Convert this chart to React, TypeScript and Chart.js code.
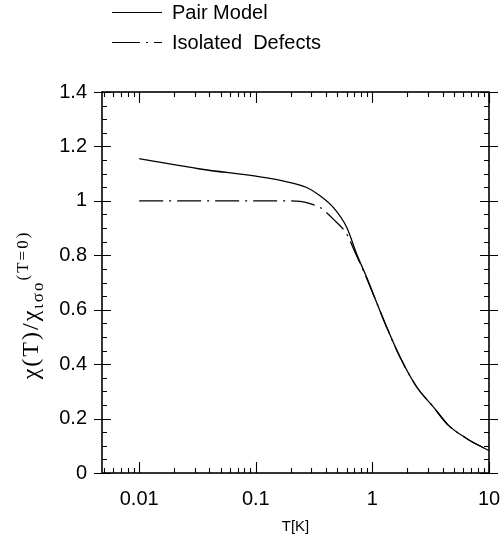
import React, { useEffect, useRef } from 'react';
import { Chart, registerables } from 'chart.js';

Chart.register(...registerables);

// ---- data ----
const pairT = [0.01, 0.0333, 0.109, 0.1845, 0.2735, 0.356, 0.462, 0.602, 0.733, 0.893, 1.07, 1.325, 1.725, 2.4, 3.33, 4.47, 6.42, 10];
const pairChi = [1.155, 1.117, 1.088, 1.07, 1.049, 1.019, 0.976, 0.903, 0.805, 0.719, 0.634, 0.536, 0.426, 0.316, 0.243, 0.176, 0.127, 0.082];

const isoT = [0.01, 0.1, 0.2, 0.24, 0.292, 0.322, 0.356, 0.462, 0.602, 0.71, 0.836, 1.07, 1.325, 1.725, 2.4, 3.33, 4.47, 6.42, 10];
const isoChi = [1.0, 1.0, 1.0, 0.998, 0.99, 0.984, 0.976, 0.933, 0.878, 0.811, 0.744, 0.634, 0.536, 0.426, 0.316, 0.243, 0.176, 0.127, 0.082];

const seriesNames = ['Pair Model', 'Isolated  Defects'];
const xTickValues = [0.01, 0.1, 1, 10];
const xTickLabels = ['0.01', '0.1', '1', '10'];
const yTickValues = [0, 0.2, 0.4, 0.6, 0.8, 1.0, 1.2, 1.4];
const yTickLabels = ['0', '0.2', '0.4', '0.6', '0.8', '1', '1.2', '1.4'];
const xTitle = 'T[K]';
const yTitleMain = 'χ(T)/χ';
const yTitleSub = 'ισο';
const yTitleSup = '(T=0)';

const SANS = '"Liberation Sans", Arial, Helvetica, sans-serif';
const SERIF = '"Liberation Serif", "Times New Roman", serif';
const ISO_DASH = [24, 6, 2, 6];

const framePlugin = {
  id: 'frameTicks',
  afterDatasetsDraw(chart: any) {
    const { ctx, chartArea, scales } = chart;
    const { left, right, top, bottom } = chartArea;
    const x = scales.x;
    const y = scales.y;
    ctx.save();
    ctx.strokeStyle = '#000';
    ctx.lineWidth = 1.6;
    ctx.strokeRect(left, top, right - left, bottom - top);
    ctx.lineWidth = 1.1;
    ctx.beginPath();
    for (let e = -3; e <= 1; e++) {
      const d = Math.pow(10, e);
      for (let m = 1; m <= 9; m++) {
        const v = m * d;
        if (v < x.min * 0.999 || v > x.max * 1.001) continue;
        const px = Math.round(x.getPixelForValue(v)) + 0.5;
        const len = m === 1 ? 11 : 5;
        ctx.moveTo(px, bottom);
        ctx.lineTo(px, bottom - len);
        ctx.moveTo(px, top);
        ctx.lineTo(px, top + len);
      }
    }
    for (let i = 0; i <= 28; i++) {
      const v = i * 0.05;
      const py = Math.round(y.getPixelForValue(v)) + 0.5;
      if (i % 4 === 0) {
        ctx.moveTo(left - 8, py);
        ctx.lineTo(left + 9, py);
        ctx.moveTo(right - 9, py);
        ctx.lineTo(right + 9, py);
      } else {
        ctx.moveTo(left, py);
        ctx.lineTo(left + 5, py);
        ctx.moveTo(right - 5, py);
        ctx.lineTo(right, py);
      }
    }
    ctx.stroke();
    ctx.restore();
  },
  afterDraw(chart: any) {
    const { ctx } = chart;
    ctx.save();
    // legend
    ctx.strokeStyle = '#000';
    ctx.fillStyle = '#000';
    ctx.lineWidth = 1.2;
    ctx.font = '20px ' + SANS;
    ctx.textBaseline = 'middle';
    ctx.textAlign = 'left';
    const rows = [12, 42];
    const dashes = [[], [28, 6, 2, 6, 10, 100]];
    seriesNames.forEach((name, i) => {
      ctx.setLineDash(dashes[i]);
      ctx.beginPath();
      ctx.moveTo(112, rows[i] + 0.5);
      ctx.lineTo(162, rows[i] + 0.5);
      ctx.stroke();
      ctx.setLineDash([]);
      ctx.fillText(name, 172, rows[i] + 1);
    });
    // y-axis title with subscript / superscript
    ctx.translate(38, 305);
    ctx.rotate(-Math.PI / 2);
    ctx.textBaseline = 'alphabetic';
    (ctx as any).letterSpacing = '2px';
    const mainFont = '24px ' + SERIF;
    const smallFont = '17px ' + SERIF;
    ctx.font = mainFont;
    const w1 = ctx.measureText(yTitleMain).width;
    ctx.font = smallFont;
    const w2 = ctx.measureText(yTitleSub).width;
    const w3 = ctx.measureText(yTitleSup).width;
    let cx = -(w1 + w2 + w3) / 2;
    ctx.font = mainFont;
    ctx.fillText(yTitleMain, cx, 0);
    cx += w1;
    ctx.font = smallFont;
    ctx.fillText(yTitleSub, cx, 5);
    cx += w2;
    ctx.fillText(yTitleSup, cx, -10);
    ctx.restore();
  },
};

export default function App() {
  const ref = useRef<HTMLCanvasElement | null>(null);
  useEffect(() => {
    if (!ref.current) return;
    const chart = new Chart(ref.current, {
      type: 'scatter',
      data: {
        datasets: [
          {
            label: seriesNames[0],
            data: pairT.map((t, i) => ({ x: t, y: pairChi[i] })),
            showLine: true,
            borderColor: '#000',
            backgroundColor: '#000',
            borderWidth: 1.3,
            pointRadius: 0,
            cubicInterpolationMode: 'monotone',
          },
          {
            label: seriesNames[1],
            data: isoT.map((t, i) => ({ x: t, y: isoChi[i] })),
            showLine: true,
            borderColor: '#000',
            backgroundColor: '#000',
            borderWidth: 1.3,
            borderDash: ISO_DASH,
            pointRadius: 0,
            cubicInterpolationMode: 'monotone',
          },
        ],
      },
      options: {
        animation: false,
        responsive: false,
        layout: { padding: { left: 0, right: 0, top: 92, bottom: 0 } },
        plugins: { legend: { display: false }, tooltip: { enabled: false } },
        scales: {
          x: {
            type: 'logarithmic',
            position: 'bottom',
            min: 0.0048,
            max: 10,
            grid: { display: false, drawTicks: false },
            border: { display: false },
            afterBuildTicks: (scale: any) => {
              scale.ticks = xTickValues.map((v) => ({ value: v }));
            },
            afterFit: (scale: any) => {
              scale.height = 77;
              scale.paddingLeft = 0;
              scale.paddingRight = 12;
            },
            ticks: {
              autoSkip: false,
              maxRotation: 0,
              padding: 14,
              color: '#000',
              font: { family: SANS, size: 20 },
              callback: (v: any) => {
                const i = xTickValues.indexOf(Number(v));
                return i >= 0 ? xTickLabels[i] : '';
              },
            },
            title: {
              display: true,
              text: xTitle,
              color: '#000',
              font: { family: SANS, size: 15 },
              padding: { top: 0, bottom: 14 },
            },
          },
          y: {
            type: 'linear',
            min: 0,
            max: 1.4,
            grid: { display: false, drawTicks: false },
            border: { display: false },
            afterBuildTicks: (scale: any) => {
              scale.ticks = yTickValues.map((v) => ({ value: v }));
            },
            afterFit: (scale: any) => {
              scale.width = 102;
            },
            ticks: {
              autoSkip: false,
              padding: 15,
              color: '#000',
              font: { family: SANS, size: 20 },
              callback: (v: any) => {
                const i = yTickValues.findIndex((t) => Math.abs(t - Number(v)) < 1e-6);
                return i >= 0 ? yTickLabels[i] : '';
              },
            },
          },
        },
      },
      plugins: [framePlugin],
    } as any);
    return () => chart.destroy();
  }, []);
  return (
    <div style={{ position: 'absolute', left: 0, top: 0, width: 501, height: 550, background: '#fff' }}>
      <canvas ref={ref} width={501} height={550} />
    </div>
  );
}
